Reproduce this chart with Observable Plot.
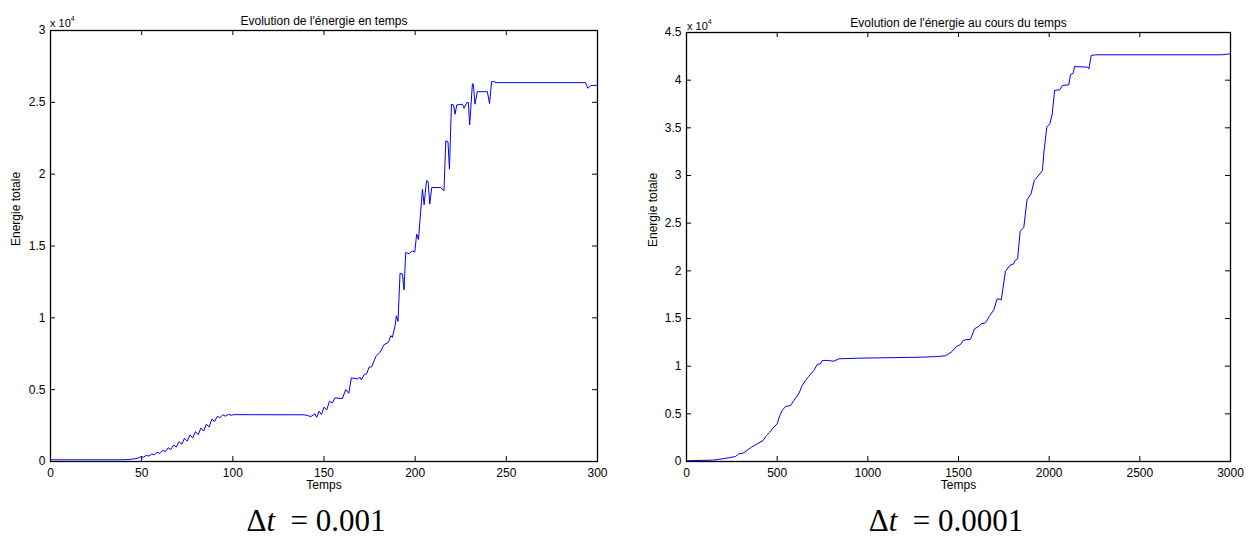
<!DOCTYPE html>
<html><head><meta charset="utf-8">
<script src="https://cdn.jsdelivr.net/npm/d3@7"></script>
<script src="https://cdn.jsdelivr.net/npm/@observablehq/plot@0.6"></script>
<style>
body{margin:0;background:#fff;}
#wrap{position:relative;width:1254px;height:538px;overflow:hidden;font-family:"Liberation Sans",Arial,sans-serif;background:#fff;}
.panel{position:absolute;top:0;}
.mult{position:absolute;font-size:11px;line-height:11px;color:#000;white-space:nowrap;}
.mult sup{font-size:7px;position:relative;top:-1px;}
.cap{position:absolute;top:504px;width:400px;text-align:center;font-family:"Liberation Serif","DejaVu Serif",serif;font-size:31px;line-height:34px;color:#000;white-space:pre;}
</style></head>
<body><div id="wrap"></div>
<script>
// ---- data: left panel (Δt = 0.001) ----
const t1 = [0,40,44,46,48,49.5,51,52.5,54,55.5,57,58.5,60,61.5,63,64.5,66,67.5,69,70.5,72,73.5,75,76.5,78,79.5,81,82.5,84,85.5,87,88.5,90,91.5,93,94.5,96,97.5,99,100.5,139,141,142.8,145,146,147.3,148.6,150,151.5,153,154.6,156,160.1,161.9,163.6,165,168.3,169.8,170.5,172,173.4,174.7,176.2,178.4,180.7,182.9,185.3,186.6,187.5,189,189.7,190.6,191.7,193,193.9,194.8,196.6,198.5,199.8,200.8,201.8,204,204.9,206.2,207.1,208,209.1,214,215.8,216.8,218,218.8,219.9,221,221.9,222.8,225.9,226.8,228.3,229.2,229.9,231.4,231.9,232.8,234.1,239.6,240.8,241.9,243.2,244.5,293.4,294.7,296.2,300];
const e1 = [120,120,150,190,230,330,300,420,380,520,470,640,560,780,690,950,830,1150,1000,1380,1200,1620,1420,1850,1640,2080,1870,2330,2120,2600,2400,2950,2780,3150,3050,3250,3150,3290,3220,3260,3250,3200,3130,3315,3080,3500,3270,3780,3590,4190,4080,4430,4380,5005,4750,5820,5750,5860,5680,6050,6100,6560,6600,7300,7600,8130,8290,8760,8640,9450,10150,9750,13100,13050,11940,14550,14460,14670,14580,15830,15450,18960,17870,19540,19490,17920,19070,19070,18840,22320,22250,20350,24870,24820,24170,24820,24870,24590,24980,24980,23430,26300,26260,24870,25740,25740,24910,26440,26440,26370,26370,25980,26160,26190];
const xTicks1 = [0,50,100,150,200,250,300];
const yTicks1 = [0,5000,10000,15000,20000,25000,30000];
const title1 = "Evolution de l'énergie en temps";
const caption1 = "0.001";

// ---- data: right panel (Δt = 0.0001) ----
const t2 = [0,150,206,270,288,316,353,390,423,441,459,481,500,515,528,546,574,592,619,638,656,674,702,721,739,748,776,812,840,960,1290,1383,1428,1447,1465,1489,1511,1526,1539,1566,1588,1612,1625,1649,1673,1695,1713,1736,1759,1785,1805,1809,1826,1840,1860,1878,1900,1918,1950,1963,1971,1987,2004,2017,2030,2059,2072,2108,2118,2133,2140,2213,2219,2232,2256,2954,3000];
const e2 = [80,150,300,520,800,910,1440,1860,2200,2730,3070,3600,3950,4830,5350,5770,5870,6400,7100,7970,8500,8920,9550,10180,10250,10600,10600,10520,10770,10840,10940,11010,11090,11300,11540,12060,12270,12690,12770,12800,13920,14160,14440,14550,15320,15910,17070,16960,19960,20600,20740,21010,21260,24150,24550,27450,28080,29480,30200,30530,32450,35070,35420,36470,38920,38990,39440,39510,40600,40730,41430,41360,41190,42590,42660,42660,42770];
const xTicks2 = [0,500,1000,1500,2000,2500,3000];
const yTicks2 = [0,5000,10000,15000,20000,25000,30000,35000,40000,45000];
const title2 = "Evolution de l'énergie au cours du temps";
const caption2 = "0.0001";

const xLabel = "Temps";
const yLabel = "Energie totale";

function panel({t, e, xTicks, yTicks, title, W, H, ml, mr, mt, mb, ylabDx}) {
  const data = t.map((x, i) => ({t: x, e: e[i]}));
  const ph = H - mt - mb, pw = W - ml - mr;
  const tick = 5;
  return Plot.plot({
    width: W, height: H,
    marginLeft: ml, marginRight: mr, marginTop: mt, marginBottom: mb,
    style: {fontFamily: "'Liberation Sans', Arial, sans-serif", fontSize: "12px", color: "#000", background: "transparent", overflow: "visible"},
    x: {domain: [xTicks[0], xTicks[xTicks.length - 1]]},
    y: {domain: [yTicks[0], yTicks[yTicks.length - 1]]},
    marks: [
      Plot.line(data, {x: "t", y: "e", stroke: "#0000ff", strokeWidth: 1}),
      Plot.tickX(xTicks, {x: d => d, insetTop: ph - tick, stroke: "#000"}),
      Plot.tickX(xTicks, {x: d => d, insetBottom: ph - tick, stroke: "#000"}),
      Plot.tickY(yTicks, {y: d => d, insetRight: pw - tick, stroke: "#000"}),
      Plot.tickY(yTicks, {y: d => d, insetLeft: pw - tick, stroke: "#000"}),
      Plot.frame({stroke: "#000", strokeWidth: 1.3}),
      Plot.axisX(xTicks, {tickSize: 0, tickPadding: 7, label: null, fontSize: 12, tickFormat: d => String(d)}),
      Plot.axisY(yTicks, {tickSize: 0, tickPadding: 5, label: null, fontSize: 12, tickFormat: d => String(d / 1e4)}),
      Plot.text([title], {frameAnchor: "top", dy: -14, text: d => d, fontSize: 12}),
      Plot.text([xLabel], {frameAnchor: "bottom", dy: 27, text: d => d, fontSize: 12}),
      Plot.text([yLabel], {frameAnchor: "left", dx: ylabDx, rotate: -90, text: d => d, fontSize: 12})
    ]
  });
}

const wrap = document.getElementById("wrap");

const p1 = panel({t: t1, e: e1, xTicks: xTicks1, yTicks: yTicks1, title: title1,
  W: 627, H: 500, ml: 50, mr: 30, mt: 30, mb: 39, ylabDx: -34});
const d1 = document.createElement("div"); d1.className = "panel"; d1.style.left = "0px"; d1.appendChild(p1); wrap.appendChild(d1);

const p2 = panel({t: t2, e: e2, xTicks: xTicks2, yTicks: yTicks2, title: title2,
  W: 627, H: 500, ml: 59, mr: 24, mt: 32, mb: 39, ylabDx: -33});
const d2 = document.createElement("div"); d2.className = "panel"; d2.style.left = "627px"; d2.appendChild(p2); wrap.appendChild(d2);

function addMult(left, top) {
  const m = document.createElement("div"); m.className = "mult";
  m.style.left = left + "px"; m.style.top = top + "px";
  m.innerHTML = "x 10<sup>4</sup>";
  wrap.appendChild(m);
}
addMult(50, 14);
addMult(687, 17);

function addCap(center, val) {
  const c = document.createElement("div"); c.className = "cap";
  c.style.left = (center - 200) + "px";
  c.innerHTML = "Δ<i>t</i>  = " + val;
  wrap.appendChild(c);
}
addCap(316, caption1);
addCap(946, caption2);
</script></body></html>
